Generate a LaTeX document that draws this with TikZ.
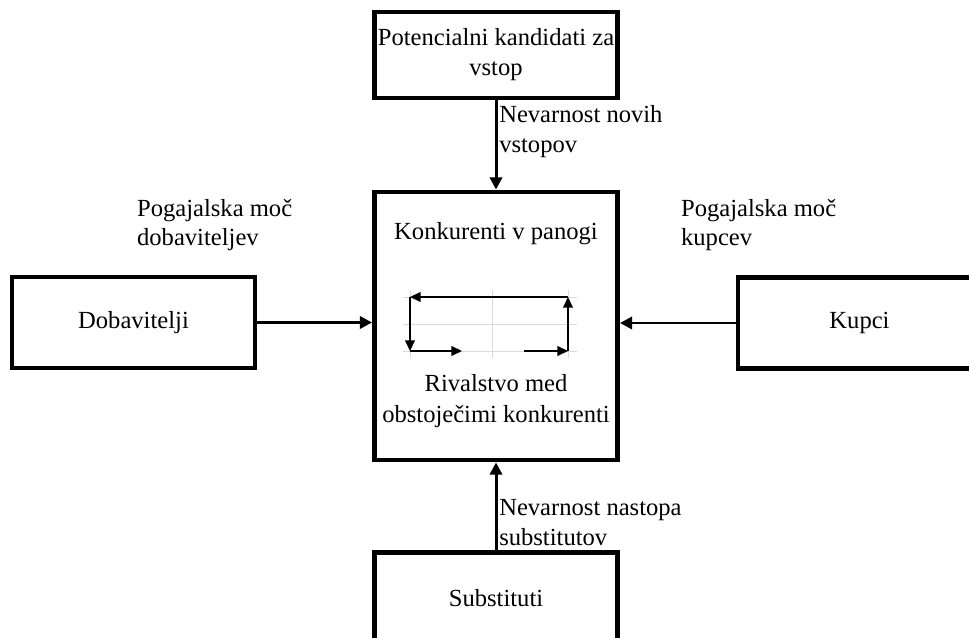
\documentclass[tikz,border=0pt]{standalone}
\usepackage{fontspec}
\setmainfont{Liberation Serif}
\usetikzlibrary{arrows.meta, positioning, calc}
\definecolor{mreza}{RGB}{218, 218, 218}

\tikzset{
  blok/.style={draw, line width=2.8pt, minimum width=4.86cm, inner sep=2pt, align=center, font=\fontsize{14}{17}\selectfont},
  oznaka/.style={align=left, inner sep=1pt, font=\fontsize{14}{17}\selectfont},
  puscica/.style={-{Triangle[length=7pt, width=7pt]}, line width=1.7pt},
  mala/.style={-{Triangle[length=6pt, width=5.5pt]}, line width=0.8pt},
}

\begin{document}
\begin{tikzpicture}[x=0.02cm, y=-0.02cm]
  \useasboundingbox (0,0) rectangle (969,638);
  \clip (0,0) rectangle (969,638);

  % --- Konkurenti v panogi ---
  \node[blok, minimum height=5.36cm] (ctr) at (496,326) {};
  \node[oznaka, align=center] (konk) at (496,234) {Konkurenti v panogi};
  \node[oznaka, align=center, font=\fontsize{14}{18}\selectfont] (rival) at (496,401) {Rivalstvo med\\obstoječimi konkurenti};

  % mala shema rivalstva
  \foreach \y in {297,324,351} \draw[mreza, line width=0.5pt] (403,\y) -- (577,\y);
  \foreach \x in {410,492,568} \draw[mreza, line width=0.5pt] (\x,290) -- (\x,358);
  \coordinate (lz) at (410,297);
  \coordinate (dz) at (568,297);
  \coordinate (ls) at (410,351);
  \coordinate (ds) at (568,351);
  \draw[mala] (dz) -- (lz);
  \draw[mala] (lz) -- (ls);
  \draw[mala] (ls) -- ++(52,0);
  \draw[mala] (524,351) -- (ds);
  \draw[mala] (ds) -- (dz);

  % --- Okoliski bloki ---
  \node[blok, minimum height=1.72cm] (kand) at (496,55) {Potencialni kandidati za\\vstop};
  \node[blok, minimum height=1.82cm] (dob) at (133.5,322.5) {Dobavitelji};
  \node[blok, minimum height=1.82cm] (kup) at (859.5,323) {Kupci};
  \node[blok, minimum height=1.82cm] (sub) at (496,598) {Substituti};

  % --- Puscice ---
  \draw[puscica] (kand.south) -- (ctr.north)
      node[oznaka, pos=0.35, right] (novi) {Nevarnost novih\\vstopov};
  \draw[puscica] (sub.north) -- (ctr.south)
      node[oznaka, pos=0.31, right] (nast) {Nevarnost nastopa\\substitutov};
  \draw[puscica] (dob.east) -- (dob.east -| ctr.west);
  \draw[puscica] (kup.west) -- (kup.west -| ctr.east);

  % --- Pogajalska moc ---
  \node[oznaka, anchor=west] (mocdob) at (135,225) {Pogajalska moč\\dobaviteljev};
  \node[oznaka, anchor=west] (mockup) at (679,225) {Pogajalska moč\\kupcev};

\end{tikzpicture}
\end{document}
